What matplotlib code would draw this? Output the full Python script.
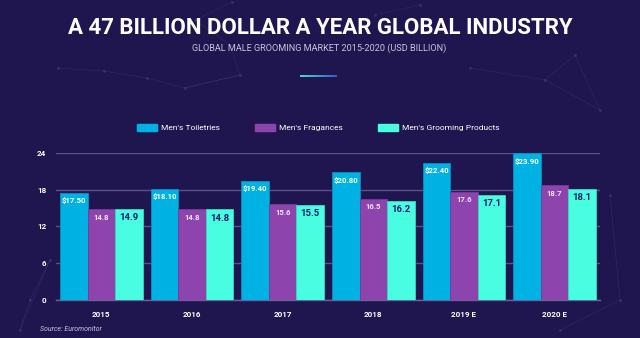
import matplotlib.pyplot as plt
import numpy as np
from matplotlib.patches import Rectangle
from matplotlib.colors import LinearSegmentedColormap

years = ["2015", "2016", "2017", "2018", "2019 E", "2020 E"]
toiletries = [17.5, 18.1, 19.4, 20.8, 22.4, 23.9]
fragrances = [14.8, 14.8, 15.6, 16.5, 17.6, 18.7]
grooming = [14.9, 14.8, 15.5, 16.2, 17.1, 18.1]
series_names = ["Men's Toiletries", "Men's Fragances", "Men's Grooming Products"]

bg = "#1f1650"
c_toil = "#00b2e3"
c_frag = "#8e44ad"
c_groom = "#48fde0"
plt.rcParams["font.family"] = ["Roboto", "DejaVu Sans"]

fig = plt.figure(figsize=(6.4, 3.38), dpi=100, facecolor=bg)

# faint network pattern in the background
net = fig.add_axes([0, 0, 1, 1])
net.set_xlim(0, 640)
net.set_ylim(338, 0)
net.axis("off")
nodes = np.array([(58, 68), (104, 71), (147, 78), (185, 88), (240, 75), (230, 45), (195, 20),
                  (232, 2), (375, 15), (420, 5), (470, 68), (545, 80), (600, 110), (575, 55),
                  (620, 300), (560, 330), (30, 300), (50, 260), (20, 330), (610, 195)])
edges = [(0, 1), (1, 2), (2, 3), (3, 4), (4, 5), (5, 6), (6, 7), (4, 3), (8, 9), (10, 11),
         (11, 12), (12, 13), (11, 13), (14, 15), (16, 17), (17, 18), (16, 18), (14, 19)]
for a, b in edges:
    net.plot([nodes[a, 0], nodes[b, 0]], [nodes[a, 1], nodes[b, 1]], color="#6a64a8",
             lw=0.5, alpha=0.2)
net.scatter(nodes[:, 0], nodes[:, 1], s=4, color="#6a64a8", alpha=0.3, lw=0)

ax = fig.add_axes([0.0875, 0.1124, 0.85, 0.4356])
ax.set_facecolor("none")

x = np.arange(len(years))
w = 0.303
b1 = ax.bar(x - w, toiletries, w, color=c_toil, edgecolor="#0a8fc0", linewidth=0.6, zorder=3)
b2 = ax.bar(x, fragrances, w, color=c_frag, edgecolor="#7a3a99", linewidth=0.6, zorder=3)
b3 = ax.bar(x + w, grooming, w, color=c_groom, edgecolor="#3ad8c0", linewidth=0.6, zorder=3)

for r, v in zip(b1, toiletries):
    ax.text(r.get_x() + r.get_width() / 2, v - 0.7, f"${v:.2f}", ha="center", va="top",
            color="white", fontsize=5.6, fontweight="bold", zorder=4)
for r, v in zip(b2, fragrances):
    ax.text(r.get_x() + r.get_width() / 2, v - 0.7, f"{v:.1f}", ha="center", va="top",
            color="#f0e6ff", fontsize=5.6, fontweight="bold", zorder=4)
for r, v in zip(b3, grooming):
    ax.text(r.get_x() + r.get_width() / 2, v - 0.7, f"{v:.1f}", ha="center", va="top",
            color="#1f1a6a", fontsize=6.8, fontweight="bold", zorder=4)

ax.set_xlim(-0.5, 5.5)
ax.set_ylim(0, 24)
ax.set_yticks([0, 6, 12, 18, 24])
ax.set_xticks(x)
ax.set_xticklabels(years)
ax.yaxis.grid(True, color="#5a5286", linewidth=1.0, zorder=0)
ax.set_axisbelow(True)
for s in ["top", "right", "left"]:
    ax.spines[s].set_visible(False)
ax.spines["bottom"].set_color("#6a6296")
ax.spines["bottom"].set_linewidth(1.0)
ax.tick_params(length=0, colors="white", labelsize=5.8)
ax.tick_params(axis="x", pad=8)
ax.tick_params(axis="y", pad=7)
for lbl in ax.get_xticklabels() + ax.get_yticklabels():
    lbl.set_fontweight("bold")

# titles
fig.text(0.5, 0.917, "A 47 BILLION DOLLAR A YEAR GLOBAL INDUSTRY", ha="center", va="center",
         color="white", fontsize=16.0, fontweight="bold")
fig.text(0.499, 0.856, "GLOBAL MALE GROOMING MARKET 2015-2020 (USD BILLION)", ha="center", va="center",
         color="#c8c4dc", fontsize=6.6)

# small gradient underline
grad = np.linspace(0, 1, 50).reshape(1, -1)
uax = fig.add_axes([300 / 640, 1 - 77 / 338, 37 / 640, 2.2 / 338])
uax.imshow(grad, aspect="auto", cmap=LinearSegmentedColormap.from_list("u", ["#48d8d0", "#3a5ad0"]))
uax.axis("off")

# legend
handles = [Rectangle((0, 0), 1, 1, color=c) for c in (c_toil, c_frag, c_groom)]
fig.legend(handles, series_names, loc="center", bbox_to_anchor=(0.497, 0.623), ncol=3,
           frameon=False, fontsize=6.0, labelcolor="white", handlelength=2.4,
           handleheight=0.9, columnspacing=4.2, handletextpad=0.5)

fig.text(40 / 640, 1 - 329 / 338, "Source: Euromonitor", color="#c8c4dc", fontsize=5,
         style="italic", va="center")

fig.savefig("out.png", dpi=100, facecolor=bg)
